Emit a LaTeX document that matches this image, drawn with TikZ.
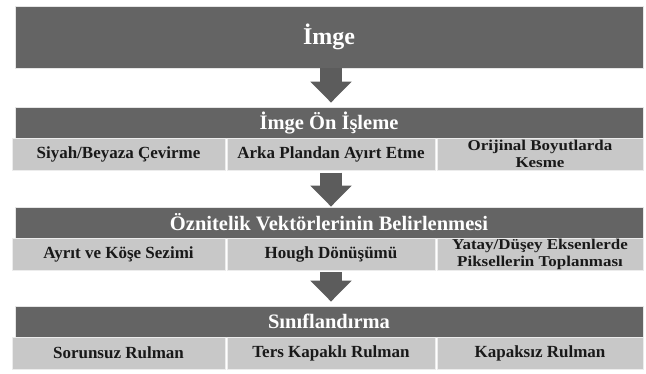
\documentclass[tikz,border=0pt]{standalone}
\usepackage{fontspec}
\setmainfont{Liberation Serif}
\newfontfamily\widefont[FakeStretch=1.13]{Liberation Serif}
\usetikzlibrary{arrows.meta}
\definecolor{hdrgray}{HTML}{646464}
\definecolor{cellgray}{HTML}{C8C8C8}
\definecolor{arrowgray}{HTML}{5C5C5C}
\tikzset{
  hdr/.style={fill=hdrgray, draw=white!80!gray, line width=0.8pt, minimum width=628pt,
    minimum height=31pt, inner sep=0pt, text=white, font=\bfseries\fontsize{20.5}{21}\selectfont},
  cell/.style={fill=cellgray, draw=white!85!gray, line width=1pt, minimum height=32pt,
    inner sep=0pt, align=center, text=black!90, font=\bfseries\fontsize{17}{15}\selectfont},
  twoline/.style={font=\widefont\bfseries\fontsize{15}{16.6}\selectfont},
  flowarrow/.style={arrowgray, line width=22pt, -{Triangle[width=40pt,length=21pt]}}
}
\begin{document}
\begin{tikzpicture}[x=1pt,y=-1pt]
  \useasboundingbox (0,0) rectangle (646,373);
  % input image
  \node[hdr, minimum height=62pt, font=\bfseries\fontsize{24}{25}\selectfont] (imge) at (329,37) {İmge};
  % preprocessing
  \node[hdr] (onisleme) at (329,122.5) {İmge Ön İşleme};
  \node[cell, minimum width=213pt] (siyah) at (118.5,154) {Siyah/Beyaza Çevirme};
  \node[cell, minimum width=208pt] (arka) at (331,154) {Arka Plandan Ayırt Etme};
  \node[cell, twoline, minimum width=206pt] (kesme) at (540,154) {Orijinal Boyutlarda\\Kesme};
  % feature vectors
  \node[hdr] (oznitelik) at (329,222.5) {Öznitelik Vektörlerinin Belirlenmesi};
  \node[cell, minimum width=213pt] (kose) at (118.5,254.5) {Ayrıt ve Köşe Sezimi};
  \node[cell, minimum width=208pt] (hough) at (331,254.5) {Hough Dönüşümü};
  \node[cell, twoline, minimum width=206pt] (toplama) at (540,254.5) {Yatay/Düşey Eksenlerde\\Piksellerin Toplanması};
  % classification
  \node[hdr] (sinif) at (329,321.5) {Sınıflandırma};
  \node[cell, minimum width=213pt] (sorunsuz) at (118.5,353) {Sorunsuz Rulman};
  \node[cell, minimum width=208pt] (ters) at (331,353) {Ters Kapaklı Rulman};
  \node[cell, minimum width=206pt] (kapaksiz) at (540,353) {Kapaksız Rulman};
  % flow
  \draw[flowarrow, shorten >=4pt] (imge.south -| arka) -- (onisleme.north -| arka);
  \draw[flowarrow, shorten <=2pt] (arka.south) -- (oznitelik.north -| arka);
  \draw[flowarrow, shorten <=1pt, shorten >=4pt] (hough.south) -- (sinif.north -| hough);
\end{tikzpicture}
\end{document}
